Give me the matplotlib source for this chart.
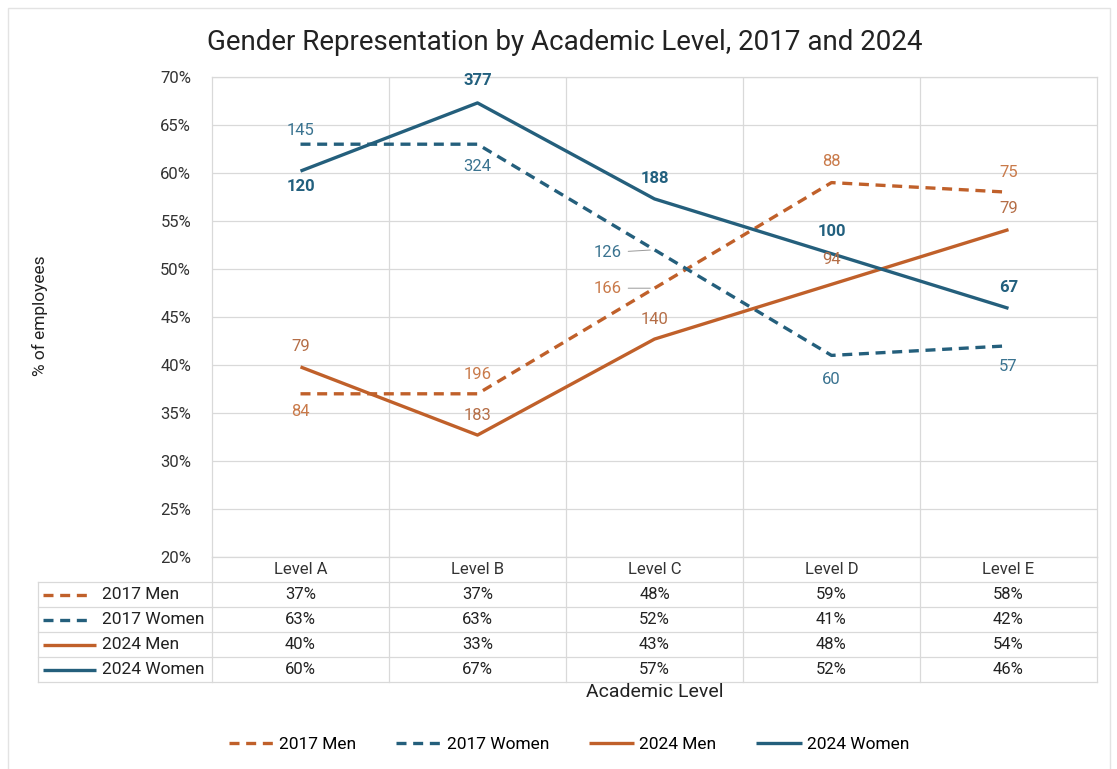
import matplotlib
matplotlib.use("Agg")
import matplotlib.pyplot as plt
from matplotlib.patches import Rectangle
from matplotlib.ticker import FuncFormatter

plt.rcParams['font.family'] = ['Roboto', 'DejaVu Sans']

# data
levels = ['Level A', 'Level B', 'Level C', 'Level D', 'Level E']
series_names = ['2017 Men', '2017 Women', '2024 Men', '2024 Women']
men_2017 = [37.0, 37.0, 48.0, 59.0, 58.0]
women_2017 = [63.0, 63.0, 52.0, 41.0, 42.0]
men_2024 = [39.8, 32.7, 42.7, 48.4, 54.1]
women_2024 = [60.2, 67.3, 57.3, 51.6, 45.9]
men_2017_n = [84, 196, 166, 88, 75]
women_2017_n = [145, 324, 126, 60, 57]
men_2024_n = [79, 183, 140, 94, 79]
women_2024_n = [120, 377, 188, 100, 67]
yticks = [20, 25, 30, 35, 40, 45, 50, 55, 60, 65, 70]

# styles
orange = '#C0602A'
blue = '#245F7C'
grid_c = '#d9d9d9'
styles = [
    dict(color=orange, ls=(0, (3, 2))),
    dict(color=blue, ls=(0, (3, 2))),
    dict(color=orange, ls='-'),
    dict(color=blue, ls='-'),
]
label_styles = [
    dict(color='#C97A4A', fontweight='normal'),
    dict(color='#3A7390', fontweight='normal'),
    dict(color='#B56E47', fontweight='normal'),
    dict(color='#22607E', fontweight='bold'),
]
# label offsets in points (dx, dy); 3rd item -> leader line
offsets = [
    [(0, -13), (0, 14), (-34, 0, 'lead'), (0, 15), (0, 14)],
    [(0, 10), (0, -16), (-34, -2, 'lead'), (0, -17), (0, -15)],
    [(0, 15), (0, 14), (0, 14), (0, 18), (0, 15)],
    [(0, -11), (0, 16), (0, 15), (0, 16), (0, 15)],
]

W, H = 1117, 769
fig = plt.figure(figsize=(W / 100, H / 100), dpi=100)

# outer border
fig.patches.append(Rectangle((8 / W, -0.01), (1110 - 8) / W, (H - 8) / H + 0.01,
                             transform=fig.transFigure, fill=False,
                             edgecolor='#e3e3e3', lw=1))

ax = fig.add_axes([212 / W, (H - 557) / H, (1097 - 212) / W, (557 - 77) / H])
x = list(range(len(levels)))
values = [men_2017, women_2017, men_2024, women_2024]
counts = [men_2017_n, women_2017_n, men_2024_n, women_2024_n]

for name, vals, st in zip(series_names, values, styles):
    ax.plot(x, vals, lw=2.4, label=name, solid_capstyle='butt', **st)

for vals, ns, ls, offs in zip(values, counts, label_styles, offsets):
    for i, (v, n) in enumerate(zip(vals, ns)):
        o = offs[i]
        kw = dict(textcoords='offset points', ha='center', va='center', fontsize=12, **ls)
        if len(o) == 3:
            ax.annotate(str(n), (i, v), xytext=(o[0], o[1]),
                        arrowprops=dict(arrowstyle='-', color='#9a9a9a', lw=0.7,
                                        shrinkA=3, shrinkB=3), **kw)
        else:
            ax.annotate(str(n), (i, v), xytext=(o[0], o[1]), **kw)

ax.set_xlim(-0.5, len(levels) - 0.5)
ax.set_ylim(20, 70)
ax.set_yticks(yticks)
ax.yaxis.set_major_formatter(FuncFormatter(lambda v, p: f'{v:.0f}%'))
ax.set_xticks([i - 0.5 for i in range(1, len(levels))])
ax.set_xticklabels([])
ax.tick_params(length=0, labelsize=12, pad=15, colors='#333333')
ax.grid(True, color=grid_c, lw=0.9)
ax.set_axisbelow(True)
for s in ax.spines.values():
    s.set_color(grid_c)
    s.set_linewidth(0.9)

# data table under the plot
tab = fig.add_axes([38 / W, (H - 682) / H, (1097 - 38) / W, (682 - 557) / H])
left = -0.5 - (212 - 38) / 177
tab.set_xlim(left, len(levels) - 0.5)
tab.set_ylim(len(series_names) + 1, 0)
tab.axis('off')
nrows = len(series_names)
for r in range(1, nrows + 2):
    tab.plot([left, len(levels) - 0.5], [r, r], color=grid_c, lw=0.9, clip_on=False)
tab.plot([left, left], [1, nrows + 1], color=grid_c, lw=0.9, clip_on=False)
for c in range(len(levels) + 1):
    tab.plot([c - 0.5, c - 0.5], [0, nrows + 1], color=grid_c, lw=0.9, clip_on=False)
for i, lev in enumerate(levels):
    tab.text(i, 0.5, lev, ha='center', va='center', fontsize=12, color='#333333')
for r, (name, vals, st) in enumerate(zip(series_names, values, styles)):
    yy = r + 1.5
    x0 = left + 5 / 177
    x1 = left + (58 if st['ls'] == '-' else 53) / 177
    tab.plot([x0, x1], [yy, yy], lw=2.4, solid_capstyle='butt', **st)
    tab.text(left + 64 / 177, yy, name, ha='left', va='center', fontsize=12.5, color='#222222')
    for i, v in enumerate(vals):
        tab.text(i, yy, f'{round(v)}%', ha='center', va='center', fontsize=12, color='#222222')

fig.text(565 / W, 1 - 42 / H, 'Gender Representation by Academic Level, 2017 and 2024',
         ha='center', va='center', fontsize=20, color='#222222')
fig.text(40 / W, 1 - 316 / H, '% of employees', rotation=90, ha='center', va='center',
         fontsize=12.5, color='#222222')
fig.text(655 / W, 1 - 692 / H, 'Academic Level', ha='center', va='center',
         fontsize=14, color='#222222')

handles, labels = ax.get_legend_handles_labels()
fig.legend(handles, labels, loc='center', bbox_to_anchor=(569 / W, 1 - 744 / H), ncol=4,
           frameon=False, fontsize=12.5, handlelength=2.6, handletextpad=0.3,
           columnspacing=2.3)

fig.savefig('out.png', dpi=100)
